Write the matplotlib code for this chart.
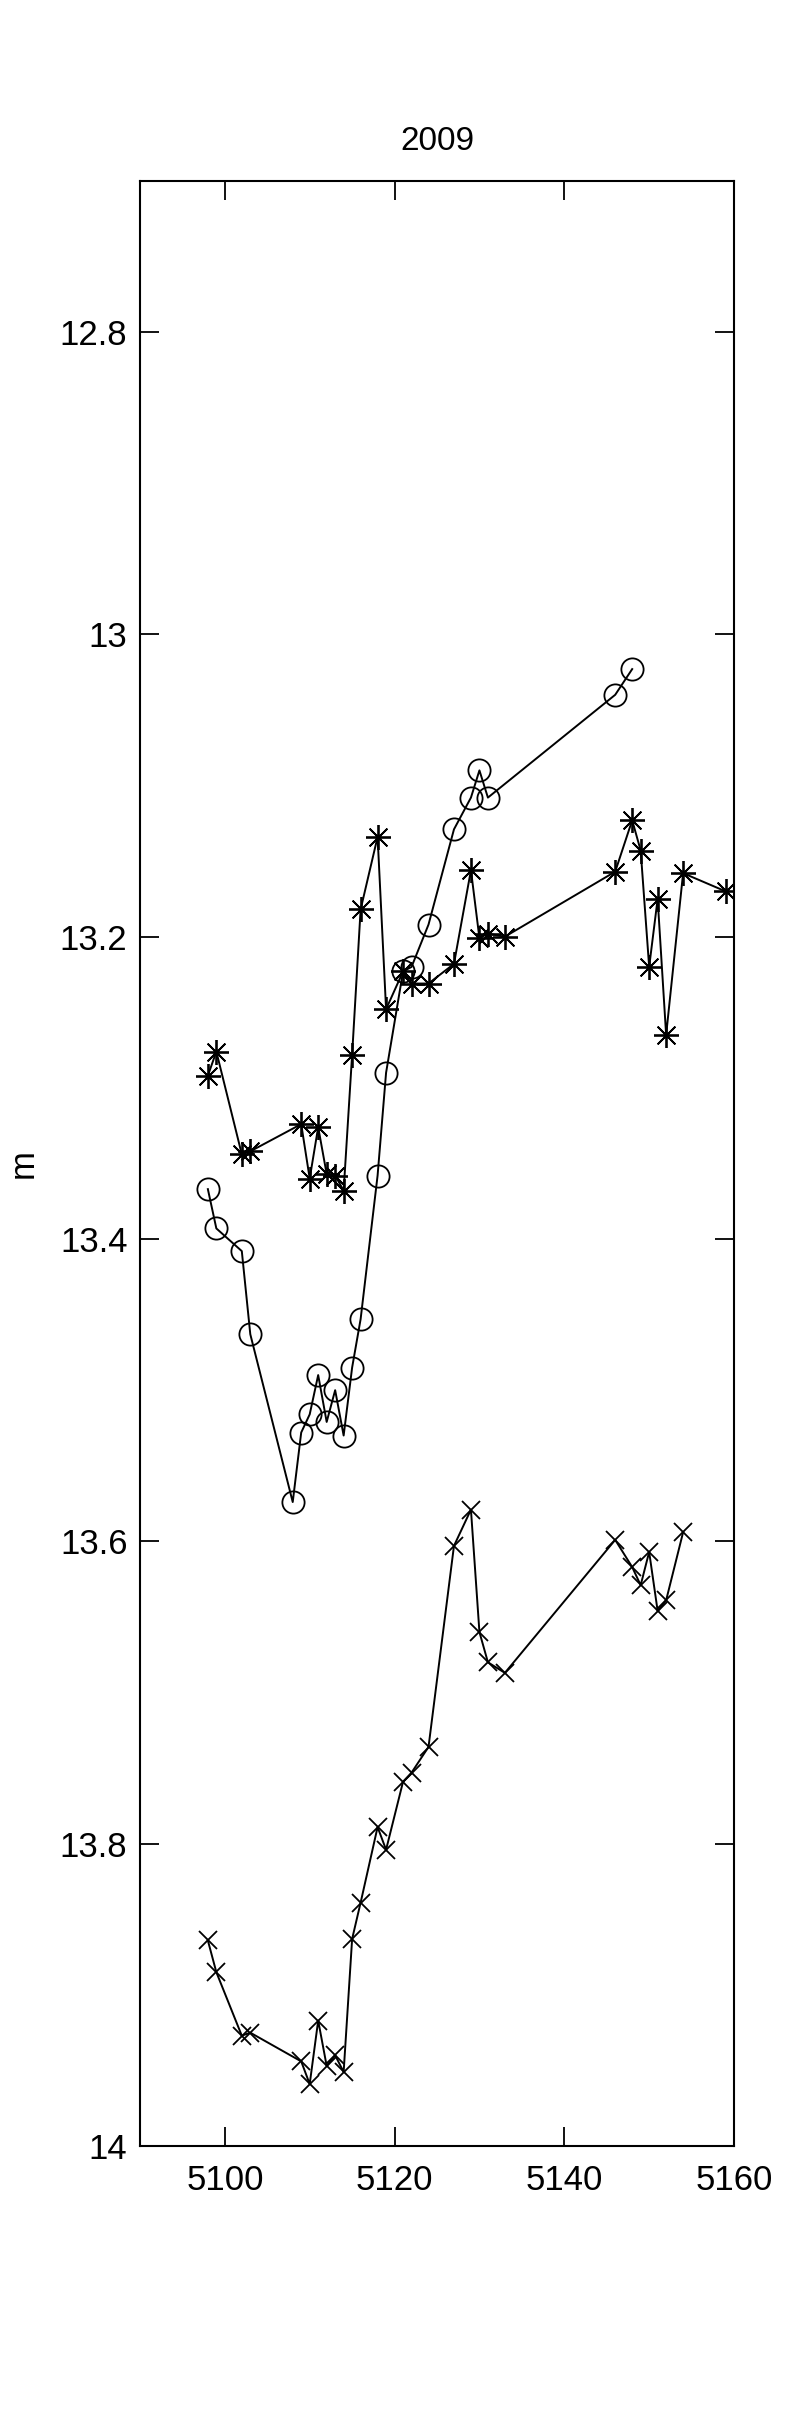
import numpy as np
import matplotlib
matplotlib.use("Agg")
from matplotlib import pyplot as plt

plt.rcParams['font.family'] = ['Liberation Sans', 'DejaVu Sans']

# circles
circ_x = [5098, 5099, 5102, 5103, 5108, 5109, 5110, 5111, 5112, 5113, 5114, 5115,
          5116, 5118, 5119, 5121, 5122, 5124, 5127, 5129, 5130, 5131, 5146, 5148]
circ_y = [13.367, 13.393, 13.408, 13.463, 13.574, 13.528, 13.516, 13.490, 13.521,
          13.500, 13.530, 13.485, 13.453, 13.358, 13.290, 13.223, 13.220, 13.192,
          13.129, 13.108, 13.090, 13.108, 13.040, 13.023]

# asterisks
ast_x = [5098, 5099, 5102, 5103, 5109, 5110, 5111, 5112, 5113, 5114, 5115, 5116,
         5118, 5119, 5121, 5122, 5124, 5127, 5129, 5130, 5131, 5133, 5146, 5148,
         5149, 5150, 5151, 5152, 5154, 5159]
ast_y = [13.292, 13.276, 13.344, 13.342, 13.324, 13.360, 13.326, 13.357, 13.358,
         13.368, 13.278, 13.182, 13.134, 13.248, 13.223, 13.231, 13.231, 13.218,
         13.156, 13.201, 13.198, 13.200, 13.157, 13.123, 13.143, 13.220, 13.175,
         13.265, 13.158, 13.170]

# crosses
cross_x = [5098, 5099, 5102, 5103, 5109, 5110, 5111, 5112, 5113, 5114, 5115, 5116,
           5118, 5119, 5121, 5122, 5124, 5127, 5129, 5130, 5131, 5133, 5146, 5148,
           5149, 5150, 5151, 5152, 5154]
cross_y = [13.864, 13.885, 13.927, 13.925, 13.944, 13.959, 13.917, 13.947, 13.940,
           13.951, 13.863, 13.839, 13.789, 13.804, 13.759, 13.753, 13.736, 13.603,
           13.579, 13.660, 13.680, 13.687, 13.599, 13.617, 13.629, 13.607, 13.646,
           13.639, 13.594]

xticks = [5100, 5120, 5140, 5160]
yticks = [12.8, 13.0, 13.2, 13.4, 13.6, 13.8, 14.0]
ytick_labels = ['12.8', '13', '13.2', '13.4', '13.6', '13.8', '14']

fig = plt.figure(figsize=(8.1, 24.14), dpi=100)
ax = fig.add_axes([0.1728, 0.1110, 0.7334, 0.8141])

lw = 1.4
ax.plot(circ_x, circ_y, color='k', lw=lw, marker='o', ms=16,
        mfc='none', mec='k', mew=1.3)
ax.plot(ast_x, ast_y, color='k', lw=lw, marker=(8, 2, 0), ms=18,
        mec='k', mew=1.3)
ax.plot(cross_x, cross_y, color='k', lw=lw, marker='x', ms=12.5,
        mec='k', mew=1.3)

ax.set_xlim(5090, 5160)
ax.set_ylim(14.0, 12.7)
ax.set_xticks(xticks)
ax.set_yticks(yticks)
ax.set_yticklabels(ytick_labels)

ax.tick_params(direction='in', length=13.7, width=1.3, top=True, right=True,
               labelsize=25)
ax.tick_params(axis='x', pad=13)
ax.tick_params(axis='y', pad=9)
for s in ax.spines.values():
    s.set_linewidth(1.5)

ax.set_title('2009', fontsize=24, pad=22)
ax.set_ylabel('m', fontsize=25)
ax.yaxis.set_label_coords(-0.168, 0.5)

fig.savefig('out.png', dpi=100)
